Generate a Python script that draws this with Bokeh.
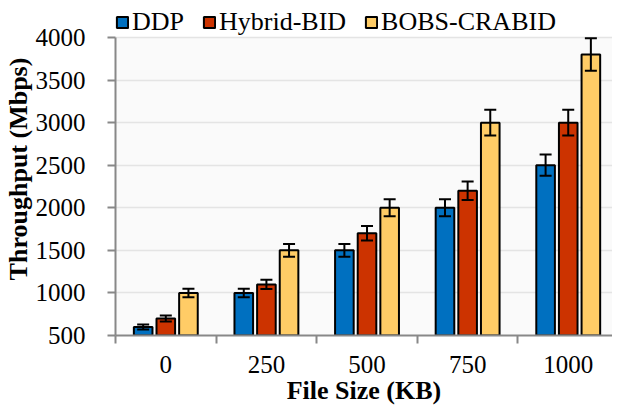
from bokeh.plotting import figure
from bokeh.models import (ColumnDataSource, Range1d, FixedTicker, Whisker, TeeHead,
                          Legend, LegendItem, BoxAnnotation)
from bokeh.transform import dodge
from bokeh.embed import file_html
from bokeh.resources import INLINE

sizes = ["0", "250", "500", "750", "1000"]
ddp = [600, 1000, 1500, 2000, 2500]
hybrid = [700, 1100, 1700, 2200, 3000]
bobs = [1000, 1500, 2000, 3000, 3800]
ddp_err = [30, 50, 75, 100, 125]
hybrid_err = [35, 55, 85, 110, 150]
bobs_err = [50, 75, 100, 150, 190]
y_ticks = [500, 1000, 1500, 2000, 2500, 3000, 3500, 4000]

series = [
    ("DDP", ddp, ddp_err, "#0070C0", -0.225),
    ("Hybrid-BID", hybrid, hybrid_err, "#CC3300", 0.0),
    ("BOBS-CRABID", bobs, bobs_err, "#FFCC66", 0.225),
]

FONT = "Liberation Serif"

p = figure(width=612, height=408, x_range=Range1d(0, 4.94), y_range=Range1d(500, 4411),
           output_backend="svg", toolbar_location=None,
           min_border_left=115, min_border_right=0, min_border_top=2, min_border_bottom=73)
p.background_fill_color = "white"
p.outline_line_color = None
p.add_layout(BoxAnnotation(bottom=500, top=4000, fill_color="#fafafa", fill_alpha=1,
                           line_color=None, level="image"))

xpos = [i + 0.5 for i in range(len(sizes))]
items = []
for name, vals, errs, color, off in series:
    src = ColumnDataSource(dict(x=xpos, top=vals,
                                upper=[v + e for v, e in zip(vals, errs)],
                                lower=[v - e for v, e in zip(vals, errs)]))
    r = p.vbar(x=dodge("x", off), top="top", bottom=500, width=0.185, source=src,
               fill_color=color, line_color="black", line_width=2)
    w = Whisker(base=dodge("x", off), upper="upper", lower="lower", source=src,
                line_color="black", line_width=2, level="overlay",
                upper_head=TeeHead(size=12, line_width=2, line_color="black"),
                lower_head=TeeHead(size=12, line_width=2, line_color="black"))
    p.add_layout(w)
    items.append(LegendItem(label=name, renderers=[r]))

legend = Legend(items=items, orientation="horizontal", location=(0, 298),
                label_text_font=FONT, label_text_font_size="26px", label_text_color="black",
                glyph_width=14, glyph_height=14, label_standoff=3, spacing=18,
                padding=0, margin=0, background_fill_alpha=0, border_line_color=None,
                label_height=24)
p.add_layout(legend, "center")

# x axis
xa = p.xaxis[0]
xa.ticker = FixedTicker(ticks=xpos, minor_ticks=[0, 1, 2, 3, 4, 5])
xa.major_label_overrides = {x: s for x, s in zip(xpos, sizes)}
xa.major_tick_line_color = None
xa.major_tick_out = 0
xa.minor_tick_out = 8
xa.minor_tick_in = 0
xa.minor_tick_line_color = "#888888"
xa.minor_tick_line_width = 2
xa.axis_line_color = "#888888"
xa.axis_line_width = 2
xa.major_label_text_font = FONT
xa.major_label_text_font_size = "25px"
xa.major_label_text_color = "black"
xa.major_label_standoff = 12
xa.axis_label = "File Size (KB)"
xa.axis_label_text_font = FONT
xa.axis_label_text_font_size = "26px"
xa.axis_label_text_font_style = "bold"
xa.axis_label_text_color = "black"
xa.axis_label_standoff = 0

# y axis
ya = p.yaxis[0]
ya.ticker = FixedTicker(ticks=y_ticks)
ya.bounds = (500, 4000)
ya.major_tick_out = 8
ya.major_tick_in = 0
ya.major_tick_line_color = "#888888"
ya.major_tick_line_width = 2
ya.minor_tick_line_color = None
ya.axis_line_color = "#888888"
ya.axis_line_width = 2
ya.major_label_text_font = FONT
ya.major_label_text_font_size = "25px"
ya.major_label_text_color = "black"
ya.major_label_standoff = 22
ya.axis_label = "Throughput (Mbps)"
ya.axis_label_text_font = FONT
ya.axis_label_text_font_size = "26px"
ya.axis_label_text_font_style = "bold"
ya.axis_label_text_color = "black"
ya.axis_label_standoff = 0

p.xgrid.grid_line_color = None
p.ygrid.grid_line_color = "#e4e4e4"
p.ygrid.grid_line_width = 1.5

open("out.html", "w").write(file_html(p, INLINE))
